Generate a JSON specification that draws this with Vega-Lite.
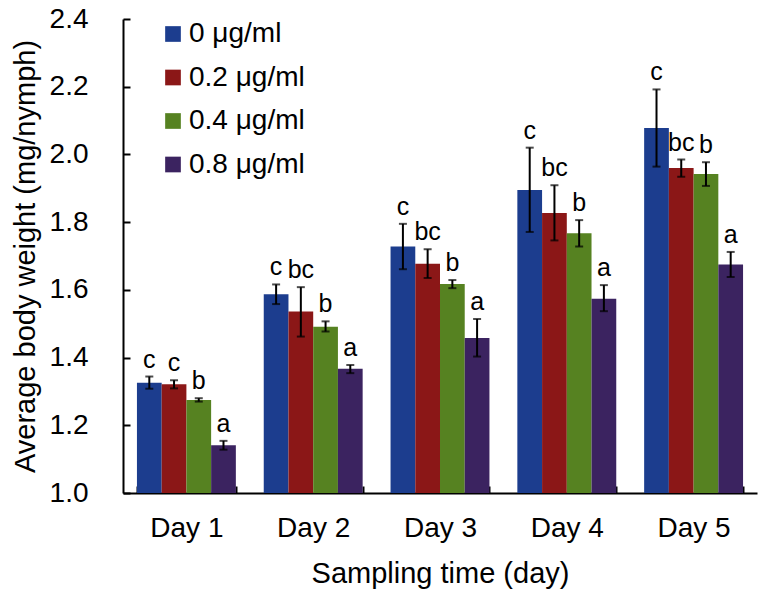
{
  "$schema": "https://vega.github.io/schema/vega-lite/v6.json",
  "width": 634,
  "height": 474,
  "autosize": "none",
  "padding": {"left": 123, "top": 19, "right": 10, "bottom": 103},
  "background": "white",
  "config": {
    "view": {"stroke": null},
    "font": "Liberation Sans",
    "axis": {"labelFont": "Liberation Sans", "titleFont": "Liberation Sans", "labelColor": "black", "titleColor": "black", "domainColor": "black", "tickColor": "black", "titleFontWeight": "normal"}
  },
  "data": {
    "values": [
      {"day": "Day 1", "conc": "0 μg/ml", "mean": 1.326, "lo": 1.308, "hi": 1.344, "letter": "c"},
      {"day": "Day 1", "conc": "0.2 μg/ml", "mean": 1.321, "lo": 1.309, "hi": 1.333, "letter": "c"},
      {"day": "Day 1", "conc": "0.4 μg/ml", "mean": 1.275, "lo": 1.270, "hi": 1.280, "letter": "b"},
      {"day": "Day 1", "conc": "0.8 μg/ml", "mean": 1.141, "lo": 1.128, "hi": 1.154, "letter": "a"},
      {"day": "Day 2", "conc": "0 μg/ml", "mean": 1.587, "lo": 1.558, "hi": 1.616, "letter": "c"},
      {"day": "Day 2", "conc": "0.2 μg/ml", "mean": 1.536, "lo": 1.462, "hi": 1.608, "letter": "bc"},
      {"day": "Day 2", "conc": "0.4 μg/ml", "mean": 1.491, "lo": 1.477, "hi": 1.507, "letter": "b"},
      {"day": "Day 2", "conc": "0.8 μg/ml", "mean": 1.367, "lo": 1.354, "hi": 1.378, "letter": "a"},
      {"day": "Day 3", "conc": "0 μg/ml", "mean": 1.728, "lo": 1.661, "hi": 1.795, "letter": "c"},
      {"day": "Day 3", "conc": "0.2 μg/ml", "mean": 1.677, "lo": 1.635, "hi": 1.720, "letter": "bc"},
      {"day": "Day 3", "conc": "0.4 μg/ml", "mean": 1.617, "lo": 1.605, "hi": 1.629, "letter": "b"},
      {"day": "Day 3", "conc": "0.8 μg/ml", "mean": 1.458, "lo": 1.403, "hi": 1.514, "letter": "a"},
      {"day": "Day 4", "conc": "0 μg/ml", "mean": 1.895, "lo": 1.771, "hi": 2.020, "letter": "c"},
      {"day": "Day 4", "conc": "0.2 μg/ml", "mean": 1.827, "lo": 1.746, "hi": 1.909, "letter": "bc"},
      {"day": "Day 4", "conc": "0.4 μg/ml", "mean": 1.767, "lo": 1.728, "hi": 1.806, "letter": "b"},
      {"day": "Day 4", "conc": "0.8 μg/ml", "mean": 1.574, "lo": 1.537, "hi": 1.614, "letter": "a"},
      {"day": "Day 5", "conc": "0 μg/ml", "mean": 2.078, "lo": 1.964, "hi": 2.192, "letter": "c"},
      {"day": "Day 5", "conc": "0.2 μg/ml", "mean": 1.960, "lo": 1.934, "hi": 1.985, "letter": "bc"},
      {"day": "Day 5", "conc": "0.4 μg/ml", "mean": 1.942, "lo": 1.907, "hi": 1.977, "letter": "b"},
      {"day": "Day 5", "conc": "0.8 μg/ml", "mean": 1.675, "lo": 1.638, "hi": 1.712, "letter": "a"}
    ]
  },
  "encoding": {
    "x": {
      "field": "day", "type": "nominal",
      "scale": {"paddingInner": 0.22, "paddingOuter": 0.11},
      "axis": {
        "title": "Sampling time (day)", "labelAngle": 0, "tickBand": "extent",
        "tickSize": -7, "tickWidth": 2, "domainWidth": 2,
        "labelFontSize": 28, "titleFontSize": 29, "labelPadding": 28, "titlePadding": 17
      }
    },
    "xOffset": {
      "field": "conc", "type": "nominal",
      "sort": ["0 μg/ml", "0.2 μg/ml", "0.4 μg/ml", "0.8 μg/ml"],
      "scale": {"paddingInner": 0, "paddingOuter": 0}
    }
  },
  "layer": [
    {
      "mark": {"type": "bar"},
      "encoding": {
        "y": {
          "field": "mean", "type": "quantitative",
          "scale": {"domain": [1.0, 2.4], "zero": false, "nice": false},
          "axis": {
            "title": "Average body weight (mg/nymph)", "values": [1.0, 1.2, 1.4, 1.6, 1.8, 2.0, 2.2, 2.4],
            "format": ".1f", "grid": false, "tickSize": -7, "tickWidth": 2, "domainWidth": 2,
            "labelFontSize": 28, "titleFontSize": 29, "labelPadding": 42, "titlePadding": 9
          }
        },
        "y2": {"datum": 1.0},
        "color": {
          "field": "conc", "type": "nominal",
          "sort": ["0 μg/ml", "0.2 μg/ml", "0.4 μg/ml", "0.8 μg/ml"],
          "scale": {"domain": ["0 μg/ml", "0.2 μg/ml", "0.4 μg/ml", "0.8 μg/ml"], "range": ["#1c3d8e", "#8b1717", "#568221", "#3b2360"]},
          "legend": {
            "title": null, "orient": "none", "legendX": 36, "legendY": 1,
            "symbolType": "square", "symbolSize": 246, "symbolStrokeWidth": 0,
            "labelFontSize": 28, "labelFont": "Liberation Sans", "labelColor": "black",
            "rowPadding": 15.5, "labelOffset": 2
          }
        }
      }
    },
    {
      "mark": {"type": "rule", "color": "black", "strokeWidth": 2},
      "encoding": {
        "y": {"field": "lo", "type": "quantitative"},
        "y2": {"field": "hi"}
      }
    },
    {
      "mark": {"type": "tick", "color": "black", "thickness": 2, "size": 8},
      "encoding": {"y": {"field": "lo", "type": "quantitative"}}
    },
    {
      "mark": {"type": "tick", "color": "black", "thickness": 2, "size": 8},
      "encoding": {"y": {"field": "hi", "type": "quantitative"}}
    },
    {
      "mark": {"type": "text", "baseline": "bottom", "dy": -4, "fontSize": 25, "font": "Liberation Sans", "color": "black"},
      "encoding": {
        "y": {"field": "hi", "type": "quantitative"},
        "text": {"field": "letter"}
      }
    }
  ]
}
